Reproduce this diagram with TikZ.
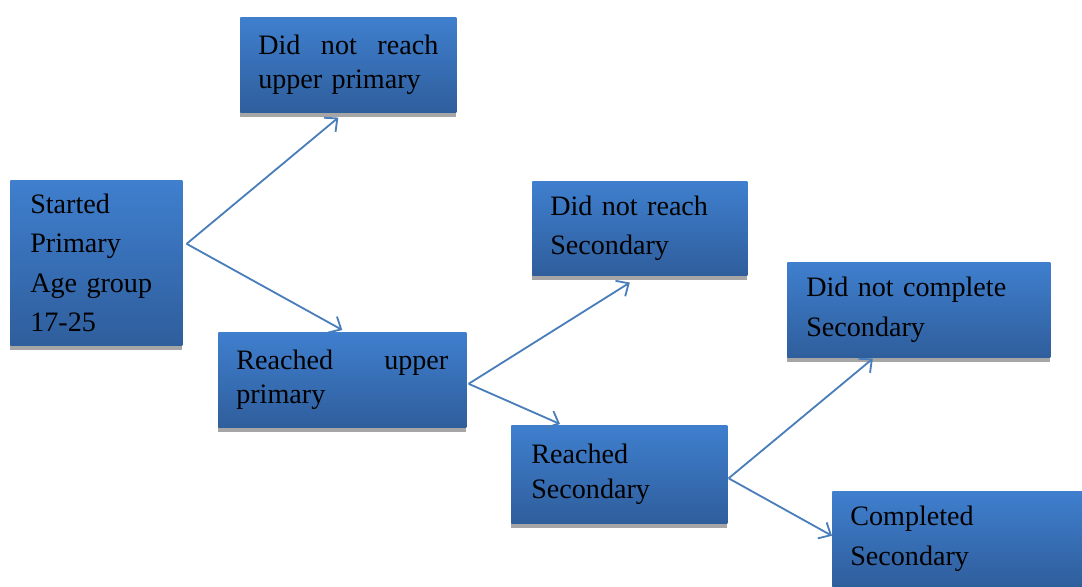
\documentclass[tikz,border=0pt]{standalone}
\usepackage{fontspec}
\setmainfont{Liberation Serif}
\usepackage{xcolor}
\usetikzlibrary{arrows.meta, calc, shadows}

\definecolor{boxtop}{RGB}{63,127,206}
\definecolor{boxbot}{RGB}{47,94,156}
\definecolor{arrblue}{RGB}{74,126,187}

\tikzset{
  stage/.style={
    rectangle, anchor=north west,
    top color=boxtop, bottom color=boxbot,
    draw=none, inner sep=0pt,
    align=left, text=black,
    font=\fontsize{20}{24.5}\selectfont,
    drop shadow={shadow xshift=-0.5pt, shadow yshift=-3pt,
                 opacity=1, fill=gray!70}
  },
  tall/.style={font=\fontsize{20}{28}\selectfont},
  arr/.style={-{Straight Barb[length=7pt, width=13pt]}, line width=1.3pt, arrblue}
}

\begin{document}
\begin{tikzpicture}[x=0.025cm, y=-0.025cm]

  \useasboundingbox (0,0) rectangle (1082,586);

  % ---- Nodes ----
  \node[stage, tall, minimum width=4.3cm, minimum height=4.125cm, text width=3.3cm]
    (start) at (10,180) {Started\\Primary\\Age group\\17-25};

  \node[stage, minimum width=5.4cm, minimum height=2.375cm, text width=4.5cm]
    (noupper) at (240,17) {\makebox[4.5cm]{Did\hfill not\hfill reach}\\upper primary};

  \node[stage, minimum width=6.2cm, minimum height=2.375cm, text width=5.3cm]
    (upper) at (218,332) {\makebox[5.3cm]{Reached\hfill upper}\\primary};

  \node[stage, tall, minimum width=5.375cm, minimum height=2.35cm, text width=4.475cm]
    (nosec) at (532,181) {Did not reach\\Secondary};

  \node[stage, minimum width=5.4cm, minimum height=2.45cm, text width=4.4cm]
    (sec) at (511,425) {Reached\\Secondary};

  \node[stage, tall, minimum width=6.575cm, minimum height=2.375cm, text width=5.625cm]
    (nocomp) at (787,262) {Did not complete\\Secondary};

  \node[stage, tall, minimum width=6.5cm, minimum height=2.375cm, text width=5.6cm]
    (comp) at (832,491) {Completed\\Secondary};

  % fork points
  \coordinate (fork1) at ($(start.east)+(4,-19)$);
  \coordinate (fork2) at ($(upper.east)+(2,4)$);
  \coordinate (fork3) at ($(sec.east)+(1,4)$);

  % ---- Arrows ----
  \draw[arr] (fork1) -- ($(noupper.south)+(-10,5)$);
  \draw[arr] (fork1) -- ($(upper.north)+(0,-2)$);

  \draw[arr] (fork2) -- ($(nosec.south)+(-10,7)$);
  \draw[arr] (fork2) -- ($(sec.north west)+(49,-1)$);

  \draw[arr] (fork3) -- ($(nocomp.south)+(-46,1)$);
  \draw[arr] (fork3) -- ($(comp.west)+(0,-3)$);

\end{tikzpicture}
\end{document}
